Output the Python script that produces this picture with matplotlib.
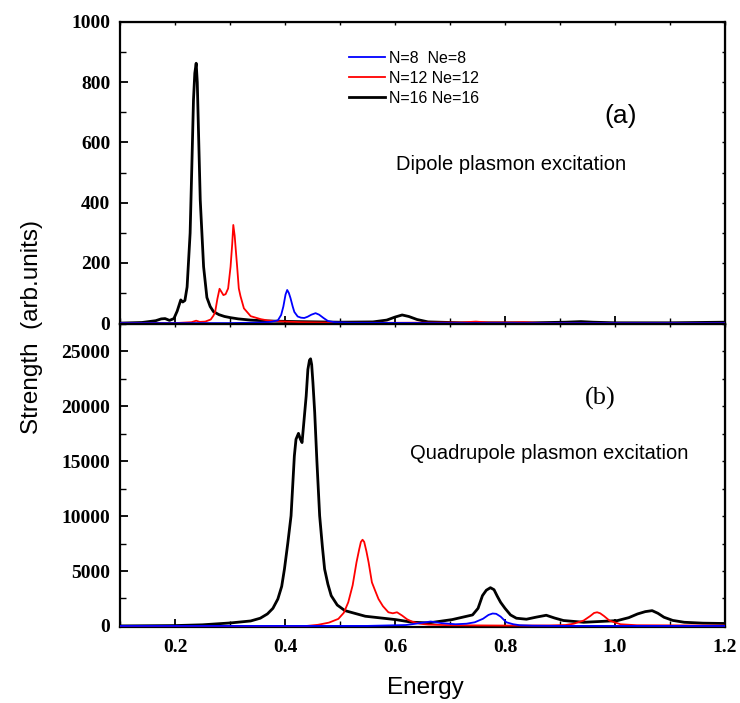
import matplotlib
matplotlib.use("Agg")
import matplotlib.pyplot as plt
from matplotlib.ticker import MultipleLocator
from matplotlib.font_manager import FontProperties

# ---- data (energy, strength) ----
# (a) dipole plasmon excitation
dip_n8_x = [0.10, 0.30, 0.36, 0.374, 0.387, 0.393, 0.397, 0.401, 0.404, 0.407, 0.410,
            0.414, 0.417, 0.423, 0.429, 0.435, 0.441, 0.448, 0.4556, 0.462, 0.470,
            0.478, 0.49, 0.52, 0.7, 1.2]
dip_n8_y = [0, 0, 2, 4, 9, 27, 55, 95, 110, 100, 83, 55, 37, 22, 18, 17, 21, 28, 33,
            28, 17, 7, 3, 1, 0, 0]

dip_n12_x = [0.10, 0.20, 0.23, 0.2385, 0.245, 0.255, 0.265, 0.270, 0.273, 0.277, 0.281,
             0.284, 0.288, 0.292, 0.2966, 0.301, 0.304, 0.306, 0.3085, 0.310, 0.313,
             0.316, 0.319, 0.3253, 0.3376, 0.356, 0.368, 0.387, 0.429, 0.50, 0.60,
             0.72, 0.747, 0.77, 0.81, 0.833, 0.86, 0.95, 1.2]
dip_n12_y = [0, 0, 3, 8, 4, 5, 12, 25, 37, 80, 114, 105, 93, 96, 115, 187, 262, 326,
             290, 255, 187, 115, 90, 49, 23, 13, 9, 6, 3, 1, 1, 2, 5, 2, 2, 3, 1, 0, 0]

dip_n16_x = [0.10, 0.14, 0.165, 0.175, 0.182, 0.190, 0.198, 0.204, 0.2105, 0.214, 0.218,
             0.222, 0.2275, 0.2306, 0.2336, 0.236, 0.2385, 0.2405, 0.2428, 0.2459,
             0.252, 0.258, 0.264, 0.270, 0.280, 0.290, 0.301, 0.315, 0.3376, 0.368,
             0.42, 0.50, 0.56, 0.585, 0.60, 0.613, 0.625, 0.64, 0.66, 0.72, 0.85, 0.91,
             0.938, 0.96, 1.0, 1.1, 1.2]
dip_n16_y = [0, 2, 8, 14, 15, 9, 15, 40, 77, 70, 75, 120, 299, 520, 741, 830, 863, 800,
             631, 409, 187, 85, 55, 38, 28, 22, 18, 14, 10, 7, 5, 3, 4, 10, 20, 27, 22,
             12, 4, 1, 1, 3, 5, 3, 1, 1, 3]

# (b) quadrupole plasmon excitation
quad_n8_x = [0.10, 0.55, 0.62, 0.645, 0.665, 0.685, 0.71, 0.73, 0.745, 0.76, 0.770,
             0.7775, 0.784, 0.792, 0.8025, 0.815, 0.827, 0.85, 0.9, 1.2]
quad_n8_y = [0, 0, 80, 250, 400, 250, 150, 200, 330, 650, 1000, 1130, 1100, 850, 330,
             150, 60, 20, 0, 0]

quad_n12_x = [0.10, 0.44, 0.46, 0.48, 0.497, 0.507, 0.515, 0.523, 0.530, 0.535, 0.538,
              0.541, 0.544, 0.548, 0.552, 0.558, 0.564, 0.570, 0.578, 0.588, 0.596,
              0.6037, 0.613, 0.622, 0.631, 0.645, 0.661, 0.70, 0.80, 0.88, 0.91, 0.925,
              0.943, 0.955, 0.962, 0.9675, 0.973, 0.980, 0.99, 1.01, 1.04, 1.2]
quad_n12_y = [0, 0, 100, 300, 640, 1200, 2150, 3700, 5790, 7000, 7650, 7850, 7650, 6800,
              5790, 3970, 3200, 2450, 1800, 1240, 1150, 1240, 940, 600, 390, 200, 120,
              60, 30, 40, 80, 200, 490, 900, 1180, 1240, 1150, 900, 480, 150, 60, 30]

quad_n16_x = [0.10, 0.20, 0.25, 0.301, 0.3376, 0.355, 0.368, 0.378, 0.387, 0.394, 0.399,
              0.405, 0.411, 0.417, 0.420, 0.4245, 0.428, 0.431, 0.4385, 0.4416, 0.4445,
              0.4465, 0.4485, 0.4508, 0.454, 0.458, 0.463, 0.468, 0.472, 0.478, 0.484,
              0.495, 0.509, 0.546, 0.601, 0.631, 0.661, 0.704, 0.741, 0.751, 0.759,
              0.766, 0.7735, 0.780, 0.786, 0.792, 0.800, 0.810, 0.8207, 0.839, 0.857,
              0.875, 0.89, 0.9064, 0.943, 1.004, 1.025, 1.041, 1.055, 1.0675, 1.078,
              1.089, 1.105, 1.126, 1.16, 1.2]
quad_n16_y = [0, 30, 100, 270, 450, 700, 1090, 1600, 2450, 3600, 5180, 7500, 10030,
              15480, 17000, 17540, 17000, 16700, 20930, 23360, 24200, 24330, 23800,
              22150, 19450, 15000, 10030, 7200, 5180, 3800, 2755, 1900, 1390, 880, 575,
              335, 270, 575, 1000, 1600, 2755, 3250, 3480, 3300, 2700, 2150, 1600, 1000,
              700, 610, 800, 970, 720, 490, 330, 480, 750, 1090, 1300, 1390, 1150, 790,
              500, 330, 250, 220]

labels = ["N=8  Ne=8", "N=12 Ne=12", "N=16 Ne=16"]
colors = ["#0000ff", "#ff0000", "#000000"]
widths = [1.3, 1.3, 2.0]

fig = plt.figure(figsize=(7.4, 7.03), dpi=100)
ax1 = fig.add_axes([120 / 740, 1 - 324 / 703, 605 / 740, 302 / 703])
ax2 = fig.add_axes([120 / 740, 1 - 627 / 703, 605 / 740, 303 / 703], sharex=ax1)

series_a = [(dip_n8_x, dip_n8_y), (dip_n12_x, dip_n12_y), (dip_n16_x, dip_n16_y)]
series_b = [(quad_n8_x, quad_n8_y), (quad_n12_x, quad_n12_y), (quad_n16_x, quad_n16_y)]

# black first, blue last (blue sits on top along the baseline)
handles = [None, None, None]
for i in [2, 1, 0]:
    h, = ax1.plot(series_a[i][0], series_a[i][1], color=colors[i], lw=widths[i],
                  label=labels[i], zorder=2 + (2 - i))
    handles[i] = h
    ax2.plot(series_b[i][0], series_b[i][1], color=colors[i], lw=widths[i],
             zorder=2 + (2 - i))

ax1.set_xlim(0.1, 1.2)
ax1.set_ylim(-3, 1000)
ax2.set_ylim(-100, 27500)

tick_font = {"family": "Liberation Serif", "weight": "bold", "size": 14}
x_major = [0.2, 0.4, 0.6, 0.8, 1.0, 1.2]
for ax in (ax1, ax2):
    for sp in ax.spines.values():
        sp.set_linewidth(1.6)
    ax.xaxis.set_minor_locator(MultipleLocator(0.1))
    ax.tick_params(which="major", direction="in", length=6, width=1.3)
    ax.tick_params(which="minor", direction="in", length=4, width=1.0)

ax1.yaxis.set_minor_locator(MultipleLocator(100))
ax2.yaxis.set_minor_locator(MultipleLocator(2500))
ax1.set_yticks([0, 200, 400, 600, 800, 1000])
ax2.set_yticks([0, 5000, 10000, 15000, 20000, 25000])
for ax in (ax1, ax2):
    ax.set_yticklabels([str(int(v)) for v in ax.get_yticks()], fontdict=tick_font)
ax2.set_xticks(x_major)
ax2.set_xticklabels(["0.2", "0.4", "0.6", "0.8", "1.0", "1.2"], fontdict=tick_font)
ax1.tick_params(labelbottom=False)
ax1.tick_params(axis="y", pad=7)
ax2.tick_params(axis="y", pad=7)
ax2.tick_params(axis="x", pad=9)

# short marks on the top and right edges
for ax in (ax1, ax2):
    top = ax.secondary_xaxis("top")
    top.set_xticks(x_major)
    top.xaxis.set_minor_locator(MultipleLocator(0.1))
    top.tick_params(which="both", direction="in", length=2.5, width=1.0,
                    labeltop=False)
    right = ax.secondary_yaxis("right")
    right.set_yticks(ax.get_yticks())
    right.yaxis.set_minor_locator(ax.yaxis.get_minor_locator())
    right.tick_params(which="both", direction="in", length=2.5, width=1.0,
                      labelright=False)

ax1.legend(handles=handles, loc="upper left", bbox_to_anchor=(0.378, 0.905),
           frameon=False, prop=FontProperties(family="Liberation Sans", size=11.5),
           handlelength=2.25, handletextpad=0.25, labelspacing=0.32, borderpad=0,
           borderaxespad=0)

ax1.text(0.828, 0.689, "(a)", transform=ax1.transAxes, fontsize=19,
         family="Liberation Sans", ha="center", va="center")
ax1.text(0.647, 0.51, "Dipole plasmon excitation", transform=ax1.transAxes,
         fontsize=14.5, family="Liberation Sans", ha="center", va="baseline")
ax2.text(0.793, 0.755, "(b)", transform=ax2.transAxes, fontsize=19,
         family="Liberation Serif", ha="center", va="center")
ax2.text(0.709, 0.553, "Quadrupole plasmon excitation", transform=ax2.transAxes,
         fontsize=14.5, family="Liberation Sans", ha="center", va="baseline")

fig.text(32 / 740, 1 - 327 / 703, "Strength  (arb.units)", rotation=90,
         fontsize=17.5, family="Liberation Sans", ha="center", va="center")
fig.text(425 / 740, 1 - 688 / 703, "Energy", fontsize=17.5,
         family="Liberation Sans", ha="center", va="center")

fig.savefig("out.png", dpi=100)
